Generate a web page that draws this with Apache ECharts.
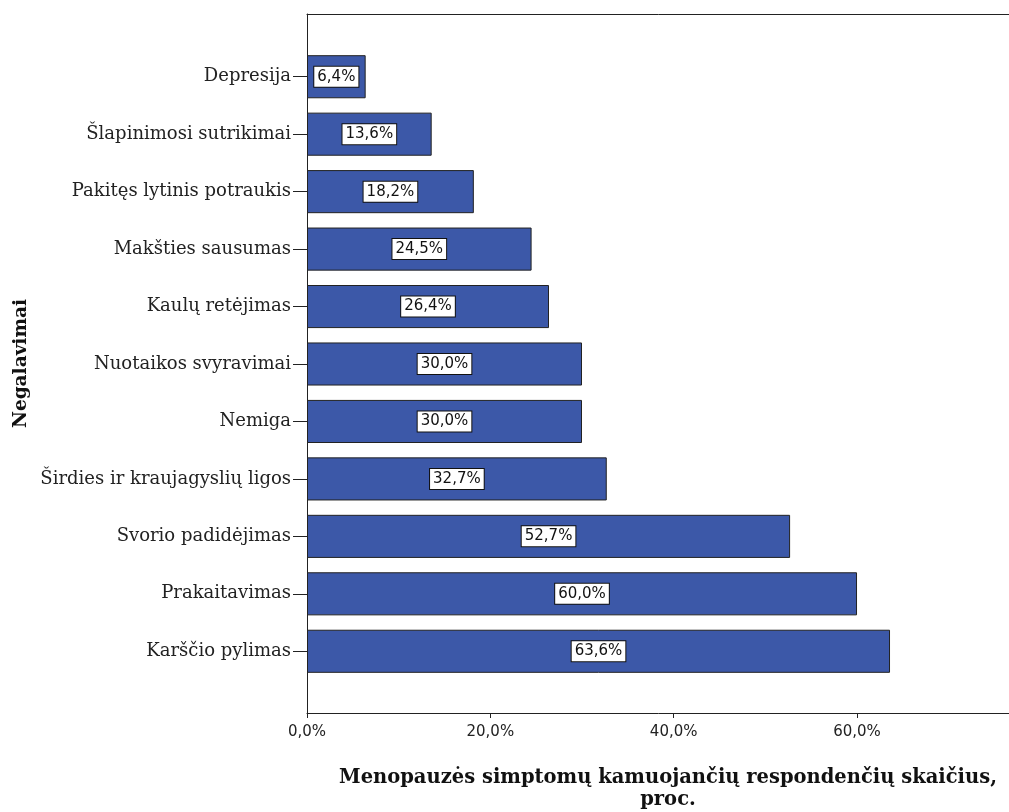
<!DOCTYPE html>
<html>
<head>
<meta charset="utf-8">
<script src="https://cdn.jsdelivr.net/npm/echarts@6/dist/echarts.min.js"></script>
<style>
html,body{margin:0;padding:0;background:#fff;}
#chart{width:1009px;height:812px;}
</style>
</head>
<body>
<div id="chart"></div>
<script>
const categories = [
  'Depresija',
  'Šlapinimosi sutrikimai',
  'Pakitęs lytinis potraukis',
  'Makšties sausumas',
  'Kaulų retėjimas',
  'Nuotaikos svyravimai',
  'Nemiga',
  'Širdies ir kraujagyslių ligos',
  'Svorio padidėjimas',
  'Prakaitavimas',
  'Karščio pylimas'
];
const values = [6.4, 13.6, 18.2, 24.5, 26.4, 30.0, 30.0, 32.7, 52.7, 60.0, 63.6];
const xTicks = [0, 20, 40, 60];
const xTitle = 'Menopauzės simptomų kamuojančių respondenčių skaičius,\nproc.';
const yTitle = 'Negalavimai';

const XMAX = 78.76;
const fmt = v => v.toFixed(1).replace('.', ',') + '%';
const serif = '"DejaVu Serif", serif';
const sans = '"DejaVu Sans", sans-serif';

const chart = echarts.init(document.getElementById('chart'), null, {renderer: 'canvas'});
chart.setOption({
  animation: false,
  backgroundColor: '#fff',
  grid: [
    {left: 307, right: -20, top: 14, bottom: 99, outerBoundsMode: 'none', containLabel: false},
    {left: 307, right: -20, top: 48, bottom: 132, outerBoundsMode: 'none', containLabel: false}
  ],
  xAxis: [
    {
      gridIndex: 0, type: 'value', position: 'bottom', min: 0, max: XMAX, interval: 20,
      axisLine: {show: true, lineStyle: {color: '#222', width: 1}},
      axisTick: {show: true, length: 5, lineStyle: {color: '#222'}},
      axisLabel: {
        show: true, margin: 12, color: '#222', fontFamily: sans, fontSize: 15,
        showMaxLabel: false,
        formatter: v => xTicks.includes(v) ? fmt(v) : ''
      },
      splitLine: {show: false},
      name: xTitle, nameLocation: 'middle', nameGap: 54,
      nameTextStyle: {fontFamily: serif, fontWeight: 'bold', fontSize: 19.5, color: '#111', lineHeight: 22}
    },
    {
      gridIndex: 0, type: 'value', position: 'top', min: 0, max: XMAX,
      axisLine: {show: true, lineStyle: {color: '#222', width: 1}},
      axisTick: {show: false}, axisLabel: {show: false}, splitLine: {show: false}
    },
    {
      gridIndex: 1, type: 'value', min: 0, max: XMAX, show: false
    }
  ],
  yAxis: [
    {
      gridIndex: 0, type: 'value', min: 0, max: 1, position: 'left',
      axisLine: {show: true, onZero: false, lineStyle: {color: '#222', width: 1}},
      axisTick: {show: false}, axisLabel: {show: false}, splitLine: {show: false},
      name: yTitle, nameLocation: 'middle', nameGap: 276, nameRotate: 90,
      nameTextStyle: {fontFamily: serif, fontWeight: 'bold', fontSize: 18.5, color: '#111'}
    },
    {
      gridIndex: 1, type: 'category', data: categories, inverse: true,
      axisLine: {show: false},
      axisTick: {show: true, alignWithLabel: true, length: 14, lineStyle: {color: '#222'}},
      axisLabel: {margin: 16, color: '#222', fontFamily: serif, fontSize: 18}
    }
  ],
  series: [{
    type: 'bar',
    xAxisIndex: 2, yAxisIndex: 1,
    data: values,
    barCategoryGap: '25%',
    itemStyle: {color: '#3c58a8', borderColor: '#222', borderWidth: 1},
    label: {
      show: true, position: 'inside', formatter: p => fmt(p.value),
      color: '#111', fontFamily: sans, fontSize: 15,
      backgroundColor: '#fff', borderColor: '#111', borderWidth: 1,
      padding: [3, 3, 2, 3]
    }
  }]
});
</script>
</body>
</html>
